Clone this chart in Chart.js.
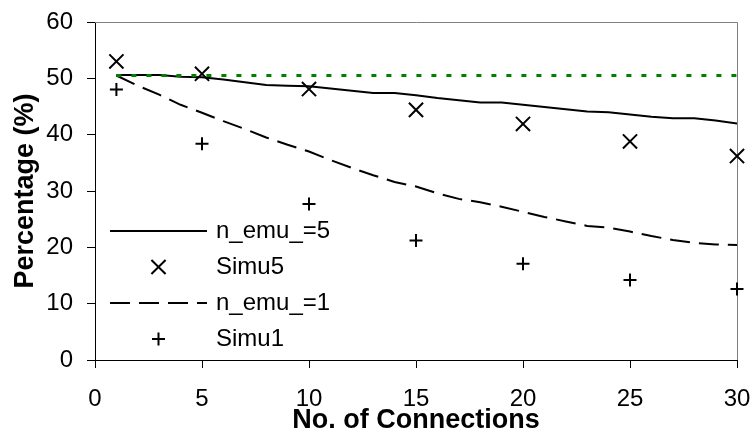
<!DOCTYPE html>
<html>
<head>
<meta charset="utf-8">
<script src="https://cdn.jsdelivr.net/npm/chart.js@4/dist/chart.umd.min.js"></script>
<style>
  html, body { margin: 0; padding: 0; background: #ffffff; }
  canvas { display: block; }
</style>
</head>
<body>
<canvas id="chart" width="755" height="436"></canvas>
<script>
  // Model curves, one value per connection count 1..30
  const connections = [1, 2, 3, 4, 5, 6, 7, 8, 9, 10, 11, 12, 13, 14, 15,
                       16, 17, 18, 19, 20, 21, 22, 23, 24, 25, 26, 27, 28, 29, 30];
  const emu5 = [50.6, 50.6, 50.6, 50.3, 50.2, 49.8, 49.3, 48.8, 48.7, 48.6,
                48.2, 47.8, 47.4, 47.4, 47.0, 46.5, 46.1, 45.7, 45.7, 45.3,
                44.9, 44.5, 44.1, 44.0, 43.6, 43.2, 42.9, 42.9, 42.5, 42.0];
  const emu1 = [50.5, 48.7, 47.1, 45.3, 43.9, 42.4, 41.0, 39.5, 38.2, 37.0,
                35.5, 34.1, 32.8, 31.6, 30.8, 29.6, 28.6, 28.0, 27.2, 26.3,
                25.4, 24.6, 23.8, 23.5, 22.8, 22.0, 21.3, 20.8, 20.5, 20.4];

  // Simulation results
  const simuConnections = [1, 5, 10, 15, 20, 25, 30];
  const simu5 = [53.0, 50.8, 48.1, 44.4, 41.9, 38.8, 36.2];
  const simu1 = [48.0, 38.4, 27.7, 21.2, 17.1, 14.2, 12.6];

  // Upper bound reference line
  const limitConnections = [1, 30];
  const limitValue = 50.5;

  const yTicks = [0, 10, 20, 30, 40, 50, 60];
  const xTicks = [0, 5, 10, 15, 20, 25, 30];

  const FONT = '"Liberation Sans", Arial, Helvetica, sans-serif';
  Chart.defaults.font.family = FONT;
  Chart.defaults.color = '#000000';

  const toPoints = (xs, ys) => xs.map((x, i) => ({ x: x, y: ys[i] }));

  // Grey frame on the top and right of the plot area
  const frame = {
    id: 'frame',
    beforeDatasetsDraw(chart) {
      const { ctx, chartArea: a } = chart;
      ctx.save();
      ctx.strokeStyle = '#808080';
      ctx.lineWidth = 1;
      ctx.beginPath();
      ctx.moveTo(a.left, a.top + 0.5);
      ctx.lineTo(a.right + 0.5, a.top + 0.5);
      ctx.lineTo(a.right + 0.5, a.bottom);
      ctx.stroke();
      ctx.restore();
    }
  };

  // Legend drawn inside the plot area, lower left
  const innerLegend = {
    id: 'innerLegend',
    afterDraw(chart) {
      const { ctx } = chart;
      const x0 = 110, x1 = 207, xText = 216, yStart = 231, rowGap = 36;
      let row = 0;
      ctx.save();
      chart.data.datasets.forEach(ds => {
        if (ds.inLegend === false) return;
        const y = yStart + row * rowGap;
        ctx.strokeStyle = '#000000';
        if (ds.showLine) {
          ctx.lineWidth = ds.borderWidth;
          ctx.setLineDash(ds.borderDash || []);
          ctx.beginPath();
          ctx.moveTo(x0, y);
          ctx.lineTo(x1, y);
          ctx.stroke();
          ctx.setLineDash([]);
        } else {
          ctx.lineWidth = ds.pointBorderWidth;
          Chart.helpers.drawPoint(ctx, {
            pointStyle: ds.pointStyle,
            radius: ds.pointRadius,
            rotation: 0,
            borderWidth: ds.pointBorderWidth
          }, (x0 + x1) / 2, y);
        }
        ctx.fillStyle = '#000000';
        ctx.font = '24px ' + FONT;
        ctx.textAlign = 'left';
        ctx.textBaseline = 'middle';
        ctx.fillText(ds.label, xText, y);
        row++;
      });
      ctx.restore();
    }
  };

  new Chart(document.getElementById('chart').getContext('2d'), {
    type: 'scatter',
    data: {
      datasets: [
        {
          label: 'limit',
          inLegend: false,
          data: limitConnections.map(x => ({ x: x, y: limitValue })),
          showLine: true,
          borderColor: '#008000',
          borderWidth: 3,
          borderDash: [5, 10],
          pointRadius: 0
        },
        {
          label: 'n_emu_=5',
          data: toPoints(connections, emu5),
          showLine: true,
          borderColor: '#000000',
          borderWidth: 2,
          pointRadius: 0
        },
        {
          label: 'Simu5',
          data: toPoints(simuConnections, simu5),
          showLine: false,
          pointStyle: 'crossRot',
          pointRadius: 10,
          pointBorderWidth: 2,
          pointBorderColor: '#000000',
          clip: false
        },
        {
          label: 'n_emu_=1',
          data: toPoints(connections, emu1),
          showLine: true,
          borderColor: '#000000',
          borderWidth: 2,
          borderDash: [20, 9],
          pointRadius: 0
        },
        {
          label: 'Simu1',
          data: toPoints(simuConnections, simu1),
          showLine: false,
          pointStyle: 'cross',
          pointRadius: 6.5,
          pointBorderWidth: 2,
          pointBorderColor: '#000000',
          clip: false
        }
      ]
    },
    options: {
      responsive: false,
      animation: false,
      events: [],
      layout: { padding: { top: 22, right: 18, left: 0, bottom: 0 } },
      plugins: {
        legend: { display: false },
        tooltip: { enabled: false }
      },
      scales: {
        x: {
          type: 'linear',
          min: 0,
          max: 30,
          afterFit: s => { s.height = 76; s.paddingLeft = 0; s.paddingRight = 0; },
          afterBuildTicks: s => { s.ticks = xTicks.map(v => ({ value: v })); },
          grid: { drawOnChartArea: false, tickLength: 8, color: '#000000' },
          border: { color: '#000000', width: 1 },
          ticks: { font: { size: 24 }, padding: 17, color: '#000000', maxRotation: 0 },
          title: {
            display: true,
            text: 'No. of Connections',
            font: { size: 27, weight: 'bold' },
            padding: { top: 0, bottom: -1 },
            color: '#000000'
          }
        },
        y: {
          type: 'linear',
          min: 0,
          max: 60,
          afterFit: s => { s.width = 95; s.paddingTop = 0; s.paddingBottom = 0; },
          afterBuildTicks: s => { s.ticks = yTicks.map(v => ({ value: v })); },
          grid: { drawOnChartArea: false, tickLength: 8, color: '#000000' },
          border: { color: '#000000', width: 1 },
          ticks: { font: { size: 24 }, padding: 14, color: '#000000' },
          title: {
            display: true,
            text: 'Percentage (%)',
            font: { size: 27, weight: 'bold' },
            padding: { top: 9, bottom: 0 },
            color: '#000000'
          }
        }
      }
    },
    plugins: [frame, innerLegend]
  });
</script>
</body>
</html>
